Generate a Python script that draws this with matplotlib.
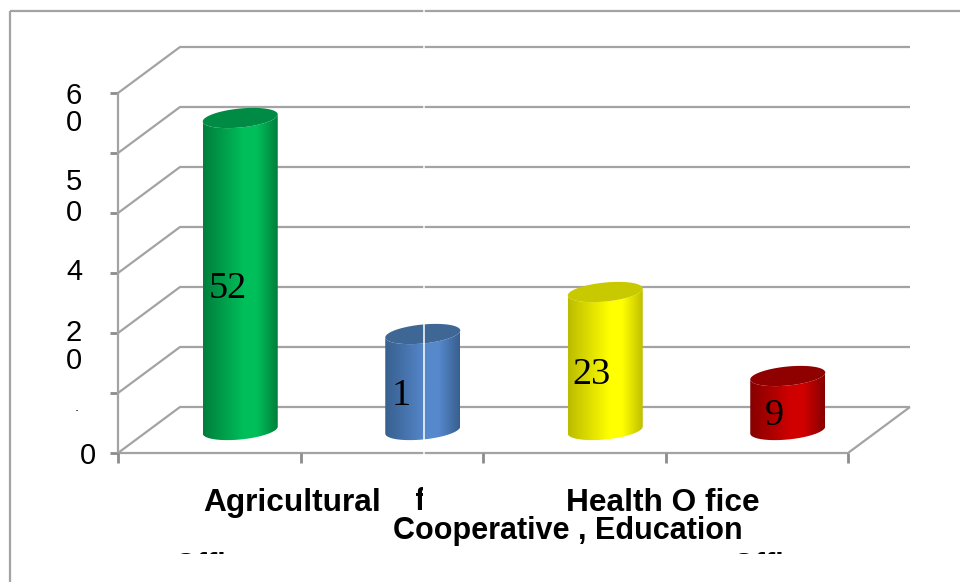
import numpy as np
import matplotlib
matplotlib.use("Agg")
import matplotlib.pyplot as plt
from matplotlib.colors import LinearSegmentedColormap
from matplotlib.patches import PathPatch, Rectangle
from matplotlib.path import Path

# values
categories = ["Agricultural", "Cooperative", "Health", "Education"]
values = [52, 16, 23, 9]
value_labels = ["52", "1", "23", "9"]
y_ticks = [0, 10, 20, 30, 40, 50, 60]

body_dark = ["#007f3c", "#38608f", "#bcbc00", "#860000"]
body_light = ["#00bf5a", "#5688cc", "#ffff00", "#d00000"]
cap_colors = ["#008b45", "#3f6796", "#c9c900", "#8f0000"]

GRID = "#a3a3a3"
PX_PER_CAT = 182.5
PX_PER_VAL = 6.0
LEFT_PX, FLOOR_PX = 118.0, 453.0
DEPTH_X, DEPTH_Y = 62.0, 46.0   # 3d shift of the back wall, in pixels
CYL_W = 75.0
CYL_B, CYL_SHEAR = 9.5, 3.5

FONT = "Liberation Sans"
SERIF = "Liberation Serif"


def to_x(px):
    return (px - LEFT_PX) / PX_PER_CAT


def to_y(py):
    return (FLOOR_PX - py) / PX_PER_VAL


def draw_frame_and_grid(ax):
    """Outer frame, back wall lines, axis and ticks."""
    kw = dict(color=GRID, lw=1.6, solid_capstyle="butt", zorder=1)
    ax.plot([to_x(10), to_x(960)], [to_y(11), to_y(11)], **kw)
    ax.plot([to_x(10), to_x(10)], [to_y(11), to_y(582)], **kw)

    dx = DEPTH_X / PX_PER_CAT
    dy = DEPTH_Y / PX_PER_VAL
    n_cat = len(categories)
    right_back = to_x(910)
    for v in y_ticks:
        ax.plot([0, dx, right_back], [v, v + dy, v + dy], **kw)
        ax.plot([to_x(110), 0], [v, v], color="#8c8c8c", lw=2, solid_capstyle="butt", zorder=1)
    ax.plot([0, 0], [y_ticks[0], y_ticks[-1]], **kw)
    ax.plot([0, n_cat, n_cat + dx], [0, 0, dy], **kw)
    for i in range(n_cat + 1):
        ax.plot([i, i], [0, to_y(463)], color="#8c8c8c", lw=2, solid_capstyle="butt", zorder=1)


def ellipse_xy(cx, v, t):
    """Points on the sheared ellipse of a cylinder end, in data units."""
    a = CYL_W / 2
    px_dx = a * np.cos(t)
    px_dy = CYL_B * np.sin(t) + CYL_SHEAR * np.cos(t)
    return cx + px_dx / PX_PER_CAT, v + px_dy / PX_PER_VAL


def draw_cylinder(ax, i, value):
    """One cylinder standing mid way in the depth of the floor."""
    cx = i + 0.5 + 0.5 * DEPTH_X / PX_PER_CAT
    base = 0.5 * DEPTH_Y / PX_PER_VAL
    top = base + value

    # body outline: front of bottom end, then front of top end backwards
    t_front = np.linspace(np.pi, 2 * np.pi, 60)
    xb, yb = ellipse_xy(cx, base, t_front)
    xt, yt = ellipse_xy(cx, top, t_front[::-1])
    verts = np.column_stack([np.r_[xb, xt], np.r_[yb, yt]])
    body = Path(np.vstack([verts, verts[0]]), closed=True)

    cmap = LinearSegmentedColormap.from_list(
        "shade", [(0, body_dark[i]), (0.55, body_light[i]), (0.72, body_light[i]), (1, body_dark[i])]
    )
    half = CYL_W / 2 / PX_PER_CAT
    img = ax.imshow(
        np.linspace(0, 1, 128).reshape(1, -1), cmap=cmap, aspect="auto", interpolation="bilinear",
        extent=[cx - half, cx + half, base - 4, top + 4], zorder=3,
    )
    clip = PathPatch(body, transform=ax.transData, fc="none", ec="none")
    ax.add_patch(clip)
    img.set_clip_path(clip)

    t_all = np.linspace(0, 2 * np.pi, 120)
    xc, yc = ellipse_xy(cx, top, t_all)
    ax.fill(xc, yc, color=cap_colors[i], lw=0, zorder=4)


def draw_text(ax):
    """Tick texts and labels, broken and cut just as in the picture."""
    tick_kw = dict(fontsize=21, family=FONT, ha="center", va="center", color="black", zorder=7)
    tick_bits = [("6", 74, 96), ("0", 74, 123), ("5", 74, 182), ("0", 74, 213),
                 ("4", 74, 272), ("2", 74, 333), ("0", 74, 361), ("0", 88, 456)]
    for s, x, y in tick_bits:
        ax.text(to_x(x), to_y(y), s, **tick_kw)
    ax.plot([to_x(75.5), to_x(77)], [to_y(409.5), to_y(409.5)], color="#555555", lw=0.7, zorder=7)

    bar_kw = dict(fontsize=27.5, family=SERIF, ha="center", va="center", color="black", zorder=7)
    for s, x, y in zip(value_labels, [227.5, 401, 592, 774.5], [289, 396, 375, 416]):
        ax.text(to_x(x), to_y(y), s, **bar_kw)

    lab_kw = dict(family=FONT, fontweight="bold", ha="center", va="center",
                  color="black", zorder=7)
    ax.text(to_x(292), to_y(503), categories[0], fontsize=22.8, **lab_kw)
    ax.text(to_x(568), to_y(531), "Cooperative , Education", fontsize=22, **lab_kw)
    ax.text(to_x(662.5), to_y(503), "Health O fice", fontsize=22.8, **lab_kw)

    # white seam running down the image
    ax.plot([to_x(423.5), to_x(423.5)], [to_y(0), to_y(582)], color="white", lw=1.1, zorder=6)

    # scrap of a label cut by the seam
    scrap = ax.text(to_x(420), to_y(502), "f", fontsize=22, **lab_kw)
    scrap.set_clip_path(Rectangle((to_x(416), to_y(515)), 7 / PX_PER_CAT, 30 / PX_PER_VAL,
                                  transform=ax.transData))
    scrap.set_clip_on(True)

    # third label row, only the top pixels survive
    for x in [217, 775]:
        row = ax.text(to_x(x), to_y(567), "Office", fontsize=22, **lab_kw)
        row.set_clip_path(Rectangle((to_x(x - 60), to_y(554)), 120 / PX_PER_CAT, 12 / PX_PER_VAL,
                                    transform=ax.transData))
        row.set_clip_on(True)


def main():
    fig = plt.figure(figsize=(9.6, 5.82), dpi=100, facecolor="white")
    ax = fig.add_axes([0, 0, 1, 1])
    ax.axis("off")

    draw_frame_and_grid(ax)
    for i, v in enumerate(values):
        draw_cylinder(ax, i, v)
    draw_text(ax)

    ax.set_xlim(to_x(0), to_x(960))
    ax.set_ylim(to_y(582), to_y(0))
    fig.savefig("out.png", dpi=100)
    plt.close(fig)


if __name__ == "__main__":
    main()
